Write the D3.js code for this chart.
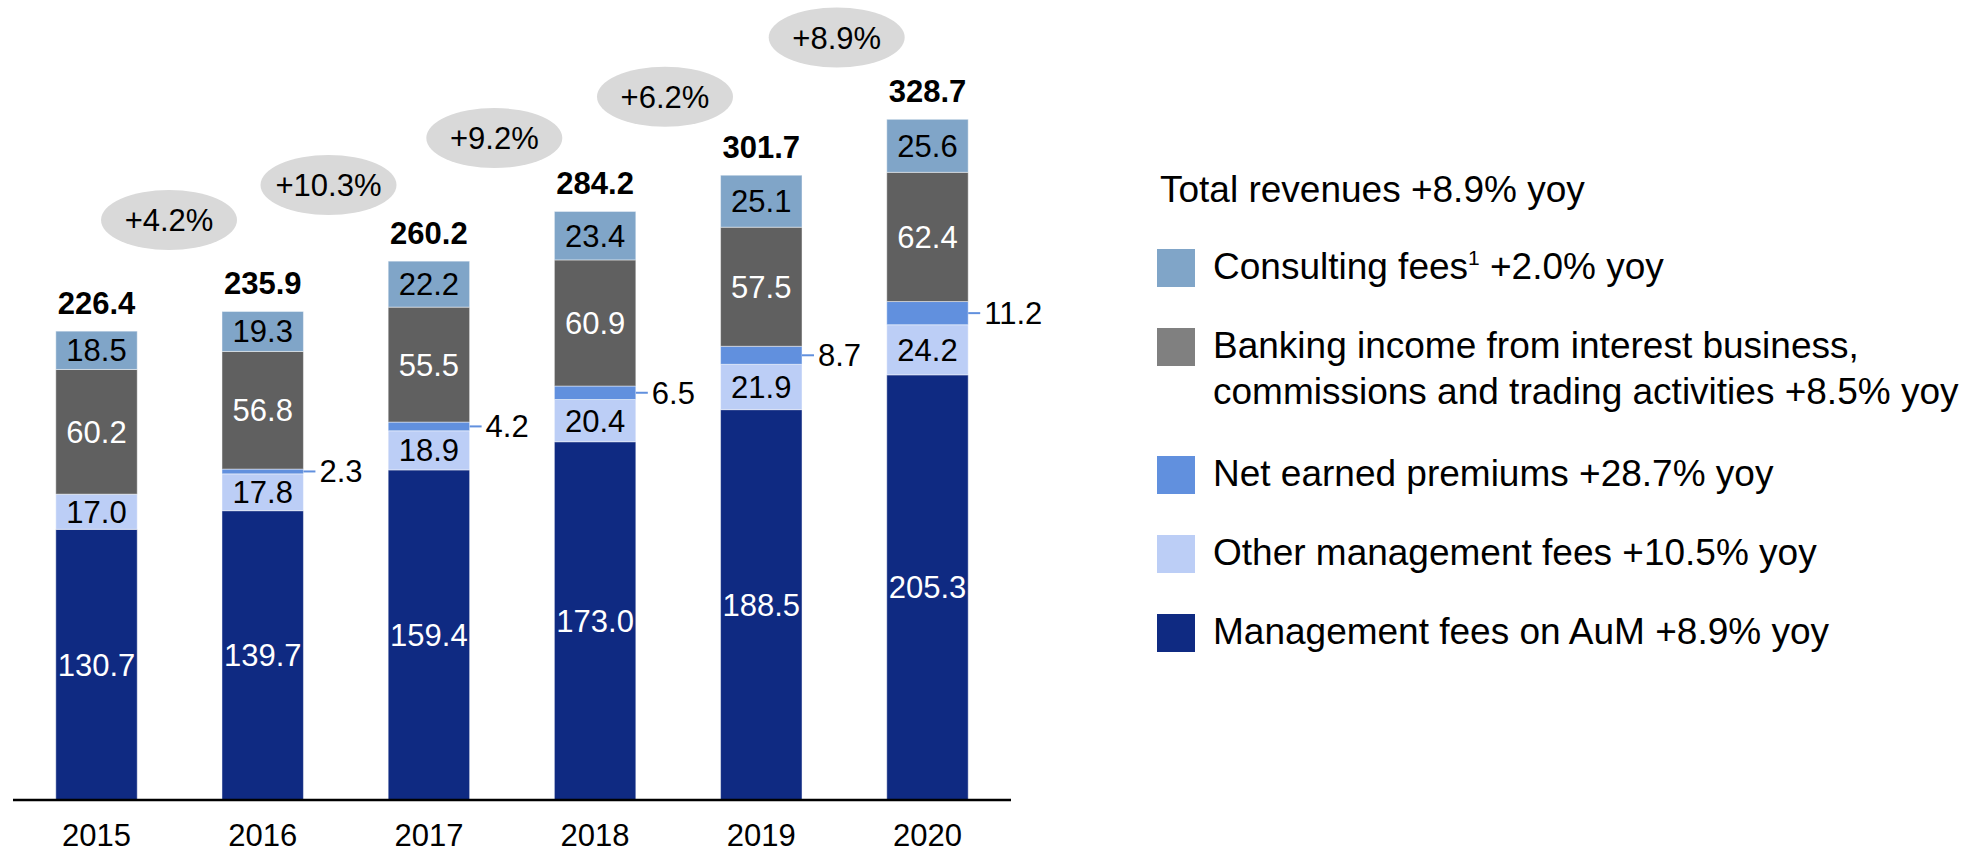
<!DOCTYPE html>

<head>
  <meta charset="utf-8">
  <script src="https://d3js.org/d3.v7.min.js"></script>
  <style>
    body {
      margin: 0;
      background: #fff;
      font-family: "Liberation Sans", Arial, sans-serif;
    }

    .seg-label {
      font-size: 31px;
      text-anchor: middle;
    }

    .total {
      font-size: 31px;
      font-weight: bold;
      text-anchor: middle;
    }

    .year {
      font-size: 31px;
      text-anchor: middle;
    }

    .bubble {
      fill: #d9d9d9;
    }

    .bubble-text {
      font-size: 31px;
      text-anchor: middle;
    }

    .legend text {
      font-size: 37px;
      fill: #000;
    }
  </style>
</head>

<body>
  <div id="vis"></div>
  <script>

    // ---- data ----
    var years = ["2015", "2016", "2017", "2018", "2019", "2020"];
    var mgmtFees = [130.7, 139.7, 159.4, 173.0, 188.5, 205.3];
    var otherFees = [17.0, 17.8, 18.9, 20.4, 21.9, 24.2];
    var netPremiums = [0, 2.3, 4.2, 6.5, 8.7, 11.2];
    var banking = [60.2, 56.8, 55.5, 60.9, 57.5, 62.4];
    var consulting = [18.5, 19.3, 22.2, 23.4, 25.1, 25.6];
    var totals = [226.4, 235.9, 260.2, 284.2, 301.7, 328.7];
    var growth = ["+4.2%", "+10.3%", "+9.2%", "+6.2%", "+8.9%"];

    var seriesKeys = ["mgmt", "other", "premiums", "banking", "consulting"];
    var seriesColor = {
      mgmt: "#0f2a82",
      other: "#bccef6",
      premiums: "#6190de",
      banking: "#606060",
      consulting: "#80a5c8"
    };
    var labelColor = { mgmt: "#fff", other: "#000", banking: "#fff", consulting: "#000" };

    var legendItems = [
      { key: "consulting", color: "#80a5c8", lines: ["Consulting fees", " +2.0% yoy"], sup: true },
      { key: "banking", color: "#808080", lines: ["Banking income from interest business,", "commissions and trading activities +8.5% yoy"] },
      { key: "premiums", color: "#6190de", lines: ["Net earned premiums +28.7% yoy"] },
      { key: "other", color: "#bccef6", lines: ["Other management fees +10.5% yoy"] },
      { key: "mgmt", color: "#0f2a82", lines: ["Management fees on AuM +8.9% yoy"] }
    ];

    var rows = years.map(function (y, i) {
      return {
        year: y,
        mgmt: mgmtFees[i],
        other: otherFees[i],
        premiums: netPremiums[i],
        banking: banking[i],
        consulting: consulting[i]
      };
    });

    // ---- layout ----
    var W = 1981, H = 853;
    var svg = d3.select("#vis").append("svg")
      .attr("width", W)
      .attr("height", H);

    var x = d3.scaleBand()
      .domain(years)
      .range([13, 1011])
      .paddingInner(0.51)
      .paddingOuter(0.2575);

    var y = d3.scaleLinear()
      .domain([0, 328.7])
      .range([800, 119.3]);

    var stack = d3.stack().keys(seriesKeys);
    var stacked = stack(rows);

    ////////// bars //////////
    var layers = svg.append("g").selectAll("g")
      .data(stacked)
      .enter().append("g")
      .attr("fill", function (d) { return seriesColor[d.key]; });

    layers.selectAll("rect")
      .data(function (d) { return d; })
      .enter().append("rect")
      .attr("x", function (d) { return x(d.data.year); })
      .attr("width", x.bandwidth())
      .attr("y", function (d) { return y(d[1]); })
      .attr("height", function (d) { return y(d[0]) - y(d[1]); })
      .attr("stroke", "rgba(255,255,255,0.45)")
      .attr("stroke-width", 1);

    // labels inside the segments
    stacked.forEach(function (layer) {
      if (layer.key === "premiums") return;
      svg.append("g").selectAll("text")
        .data(layer)
        .enter().append("text")
        .attr("class", "seg-label")
        .attr("fill", labelColor[layer.key])
        .attr("x", function (d) { return x(d.data.year) + x.bandwidth() / 2; })
        .attr("y", function (d) { return (y(d[0]) + y(d[1])) / 2 + 11; })
        .text(function (d) { return (d[1] - d[0]).toFixed(1); });
    });

    // net earned premiums: leader line + label outside
    var prem = stacked.find(function (l) { return l.key === "premiums"; })
      .filter(function (d) { return d[1] - d[0] > 0; });

    var premG = svg.append("g");
    premG.selectAll("line")
      .data(prem)
      .enter().append("line")
      .attr("x1", function (d) { return x(d.data.year) + x.bandwidth(); })
      .attr("x2", function (d) { return x(d.data.year) + x.bandwidth() + 12; })
      .attr("y1", function (d) { return (y(d[0]) + y(d[1])) / 2; })
      .attr("y2", function (d) { return (y(d[0]) + y(d[1])) / 2; })
      .attr("stroke", seriesColor.premiums)
      .attr("stroke-width", 2);

    premG.selectAll("text")
      .data(prem)
      .enter().append("text")
      .attr("class", "seg-label")
      .style("text-anchor", "start")
      .attr("x", function (d) { return x(d.data.year) + x.bandwidth() + 16; })
      .attr("y", function (d) { return (y(d[0]) + y(d[1])) / 2 + 11; })
      .text(function (d) { return (d[1] - d[0]).toFixed(1); });

    // totals
    svg.append("g").selectAll("text")
      .data(totals)
      .enter().append("text")
      .attr("class", "total")
      .attr("x", function (d, i) { return x(years[i]) + x.bandwidth() / 2; })
      .attr("y", function (d) { return y(d) - 17; })
      .text(function (d) { return d.toFixed(1); });

    // axis
    var axis = svg.append("g")
      .attr("transform", "translate(0,800)")
      .call(d3.axisBottom(x).tickSize(0).tickPadding(24));
    axis.select(".domain")
      .attr("d", "M13,0H1011")
      .attr("stroke", "#000")
      .attr("stroke-width", 2.5);
    axis.selectAll(".tick text")
      .attr("class", "year")
      .attr("font-family", null)
      .attr("font-size", null)
      .attr("fill", "#000");

    ////////// growth bubbles //////////
    var bubbleShift = [72.5, 65.8, 65.4, 69.9, 75.4];  // from left bar centre
    var bubbleLift = [91.4, 76.1, 73.4, 78.5, 81.8];   // above next year's total

    var bubbles = svg.append("g").selectAll("g")
      .data(growth)
      .enter().append("g")
      .attr("transform", function (d, i) {
        var cx = x(years[i]) + x.bandwidth() / 2 + bubbleShift[i];
        var cy = y(totals[i + 1]) - bubbleLift[i];
        return "translate(" + cx + "," + cy + ")";
      });

    bubbles.append("ellipse")
      .attr("class", "bubble")
      .attr("rx", 68)
      .attr("ry", 30);

    bubbles.append("text")
      .attr("class", "bubble-text")
      .attr("y", 11)
      .text(function (d) { return d; });

    ////////// legend //////////
    var legend = svg.append("g").attr("class", "legend");

    legend.append("text")
      .attr("x", 1160)
      .attr("y", 202)
      .text("Total revenues +8.9% yoy");

    var rowY = [];
    var cur = 268;
    legendItems.forEach(function (it) {
      rowY.push(cur);
      cur += 79 + (it.lines.length > 1 && !it.sup ? 49 : 0);
    });

    var items = legend.selectAll("g.item")
      .data(legendItems)
      .enter().append("g")
      .attr("class", "item")
      .attr("transform", function (d, i) { return "translate(0," + rowY[i] + ")"; });

    items.append("rect")
      .attr("x", 1157)
      .attr("y", -19)
      .attr("width", 38)
      .attr("height", 38)
      .attr("fill", function (d) { return d.color; });

    items.each(function (d) {
      var g = d3.select(this);
      if (d.sup) {
        var t = g.append("text").attr("x", 1213).attr("y", 11);
        t.append("tspan").text(d.lines[0]);
        t.append("tspan").attr("dy", -14).style("font-size", "21px").text("1");
        t.append("tspan").attr("dy", 14).text(d.lines[1]);
      } else {
        d.lines.forEach(function (line, j) {
          g.append("text")
            .attr("x", 1213)
            .attr("y", 11 + j * 46)
            .text(line);
        });
      }
    });

  </script>
</body>
